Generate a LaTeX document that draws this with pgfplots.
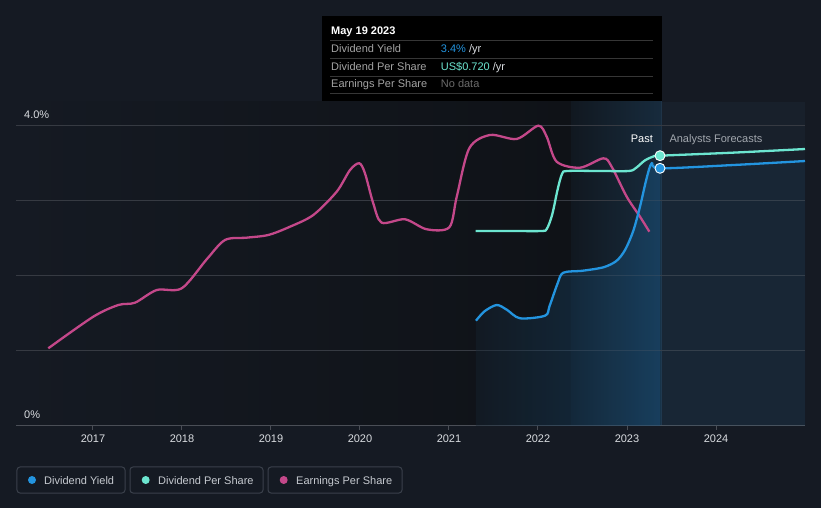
\documentclass[border=0pt]{standalone}
\usepackage{fontspec}
\setmainfont{Liberation Sans}
\usepackage{pgfplots}
\pgfplotsset{compat=1.18}
\definecolor{pagebg}{HTML}{151A23}
\definecolor{leftdark}{HTML}{0F1217}
\definecolor{bandL}{HTML}{111820}
\definecolor{bandR}{HTML}{172B3D}
\definecolor{fcbg}{HTML}{18202B}
\definecolor{gridgray}{HTML}{363A42}
\definecolor{axisgray}{HTML}{4A4E56}
\definecolor{dyblue}{HTML}{2394DF}
\definecolor{areablueL}{HTML}{152432}
\definecolor{areablueR}{HTML}{1A5A8A}
\definecolor{dpsteal}{HTML}{6CE5D0}
\definecolor{epspink}{HTML}{C4488A}
\definecolor{ticktext}{HTML}{DADDE1}
\definecolor{legtext}{HTML}{C6CAD0}
\definecolor{legborder}{HTML}{3A404B}
\definecolor{ttsep}{HTML}{363636}
\definecolor{ttlabel}{HTML}{A3A3A3}
\definecolor{ttnodata}{HTML}{6B6B6B}
\definecolor{vline}{HTML}{1F3448}
\definecolor{fctext}{HTML}{A2A7AE}
\begin{document}
\begin{tikzpicture}[x=1pt,y=1pt]
% page background
\fill[pagebg] (-16,-82) rectangle (805,426);
% plot backgrounds
\shade[left color=pagebg, right color=leftdark] (0,0) rectangle (555,324);
\shade[left color=bandL, right color=bandR] (555,0) rectangle (645,324);
\fill[fcbg] (645,0) rectangle (789,324);
% past / forecast divider
\draw[vline, line width=1pt] (645,0) -- (645,325);
\begin{axis}[
  at={(0,0)}, anchor=south west,
  scale only axis, width=789pt, height=300pt,
  xmin=2016.135, xmax=2025.0, ymin=0, ymax=4,
  axis x line*=bottom, axis y line*=left,
  x axis line style={draw=axisgray, line width=1pt},
  y axis line style={draw=none},
  xtick={2017,2018,2019,2020,2021,2022,2023,2024},
  xticklabels={2017,2018,2019,2020,2021,2022,2023,2024},
  xtick style={draw=axisgray, line width=1pt},
  tick align=outside, major tick length=4pt,
  xticklabel style={font=\fontsize{11}{13}\selectfont, text=ticktext, anchor=base, yshift=-13pt},
  ytick={1,2,3,4}, yticklabels={}, ytick style={draw=none},
  ymajorgrids, grid style={gridgray, line width=1pt},
  clip=false,
]
% dividend yield area (past)
\addplot[draw=none, left color=areablueL, right color=areablueR, fill opacity=0.42, smooth] coordinates {
(2021.303,1.404) (2021.40,1.53) (2021.536,1.613) (2021.65,1.55) (2021.798,1.436) (2022.079,1.471) (2022.13,1.6) (2022.22,1.9) (2022.284,2.044) (2022.50,2.07) (2022.734,2.116) (2022.88,2.2) (2022.978,2.347) (2023.07,2.6) (2023.146,2.924) (2023.22,3.3) (2023.278,3.503) (2023.371,3.436)
} \closedcycle;
% dividend yield area (forecast)
\addplot[draw=none, fill=dyblue, fill opacity=0.06] coordinates {
(2023.371,3.436) (2024.2,3.48) (2025,3.533)
} \closedcycle;
% EPS
\addplot[epspink, line width=2.3pt, smooth] coordinates {
(2016.498,1.036) (2017.003,1.457) (2017.284,1.613) (2017.472,1.644) (2017.716,1.813) (2017.997,1.836) (2018.278,2.223) (2018.483,2.48) (2018.727,2.511) (2018.970,2.547) (2019.213,2.657) (2019.475,2.813) (2019.738,3.124) (2019.888,3.413) (2019.992,3.503) (2020.056,3.369) (2020.149,2.969) (2020.244,2.711) (2020.506,2.756) (2020.749,2.623) (2021.003,2.649) (2021.087,3.057) (2021.228,3.703) (2021.461,3.88) (2021.761,3.827) (2022.003,4.004) (2022.098,3.857) (2022.210,3.524) (2022.472,3.444) (2022.734,3.569) (2022.828,3.457) (2022.997,3.057) (2023.146,2.791) (2023.251,2.591)
};
% DPS
\addplot[dpsteal, line width=2.3pt, smooth] coordinates {
(2021.30,2.6) (2021.70,2.6) (2022.04,2.6) (2022.10,2.63) (2022.16,2.82) (2022.22,3.15) (2022.27,3.36) (2022.33,3.40) (2022.70,3.40) (2023.02,3.40) (2023.10,3.44) (2023.20,3.54) (2023.30,3.595) (2023.371,3.604) (2024.2,3.645) (2025,3.693)
};
% Dividend yield
\addplot[dyblue, line width=2.3pt, smooth] coordinates {
(2021.303,1.404) (2021.40,1.53) (2021.536,1.613) (2021.65,1.55) (2021.798,1.436) (2022.079,1.471) (2022.13,1.6) (2022.22,1.9) (2022.284,2.044) (2022.50,2.07) (2022.734,2.116) (2022.88,2.2) (2022.978,2.347) (2023.07,2.6) (2023.146,2.924) (2023.22,3.3) (2023.278,3.503) (2023.371,3.436) (2024.2,3.48) (2025,3.533)
};
% markers
\addplot[only marks, mark=*, mark size=5pt, mark options={fill=dpsteal, draw=white, line width=0.9pt}] coordinates {(2023.371,3.604)};
\addplot[only marks, mark=*, mark size=5pt, mark options={fill=dyblue, draw=white, line width=0.9pt}] coordinates {(2023.371,3.436)};
\end{axis}
% y labels
\node[anchor=base west, inner sep=0, font=\fontsize{11}{13}\selectfont, text=ticktext] at (8,307.7) {4.0\%};
\node[anchor=base west, inner sep=0, font=\fontsize{11}{13}\selectfont, text=ticktext] at (8,7.7) {0\%};
% Past / Analysts Forecasts
\node[anchor=base east, inner sep=0, font=\fontsize{11}{13}\selectfont, text=white] at (637,283.7) {Past};
\node[anchor=base west, inner sep=0, font=\fontsize{11}{13}\selectfont, text=fctext] at (653.3,283.7) {Analysts Forecasts};
% tooltip
\fill[black] (306,325) rectangle (646,410);
\node[anchor=base west, inner sep=0, font=\fontsize{11}{13}\selectfont\bfseries, text=white] at (315,391.5) {May 19 2023};
\foreach \yy in {385.3,367.7,350,332.7} \draw[ttsep, line width=0.8pt] (314,\yy) -- (637,\yy);
\node[anchor=base west, inner sep=0, font=\fontsize{11}{13}\selectfont, text=ttlabel] at (315,373) {Dividend Yield};
\node[anchor=base west, inner sep=0, font=\fontsize{11}{13}\selectfont, text=ttlabel] at (315,355.7) {Dividend Per Share};
\node[anchor=base west, inner sep=0, font=\fontsize{11}{13}\selectfont, text=ttlabel] at (315,338) {Earnings Per Share};
\node[anchor=base west, inner sep=0, font=\fontsize{11}{13}\selectfont] at (424.7,373) {\textcolor{dyblue}{3.4\%} \textcolor{ticktext}{/yr}};
\node[anchor=base west, inner sep=0, font=\fontsize{11}{13}\selectfont] at (424.7,355.7) {\textcolor{dpsteal}{US\$0.720} \textcolor{ticktext}{/yr}};
\node[anchor=base west, inner sep=0, font=\fontsize{11}{13}\selectfont, text=ttnodata] at (424.7,338) {No data};
% legend
\draw[legborder, line width=1pt, rounded corners=3pt] (1,-41) rectangle (109,-67);
\draw[legborder, line width=1pt, rounded corners=3pt] (114,-41) rectangle (247,-67);
\draw[legborder, line width=1pt, rounded corners=3pt] (252,-41) rectangle (386,-67);
\fill[dyblue] (16,-54) circle (4);
\fill[dpsteal] (129.7,-54) circle (4);
\fill[epspink] (267.7,-54) circle (4);
\node[anchor=base west, inner sep=0, font=\fontsize{11}{13}\selectfont, text=legtext] at (28,-58.5) {Dividend Yield};
\node[anchor=base west, inner sep=0, font=\fontsize{11}{13}\selectfont, text=legtext] at (142,-58.5) {Dividend Per Share};
\node[anchor=base west, inner sep=0, font=\fontsize{11}{13}\selectfont, text=legtext] at (280,-58.5) {Earnings Per Share};
\end{tikzpicture}
\end{document}
